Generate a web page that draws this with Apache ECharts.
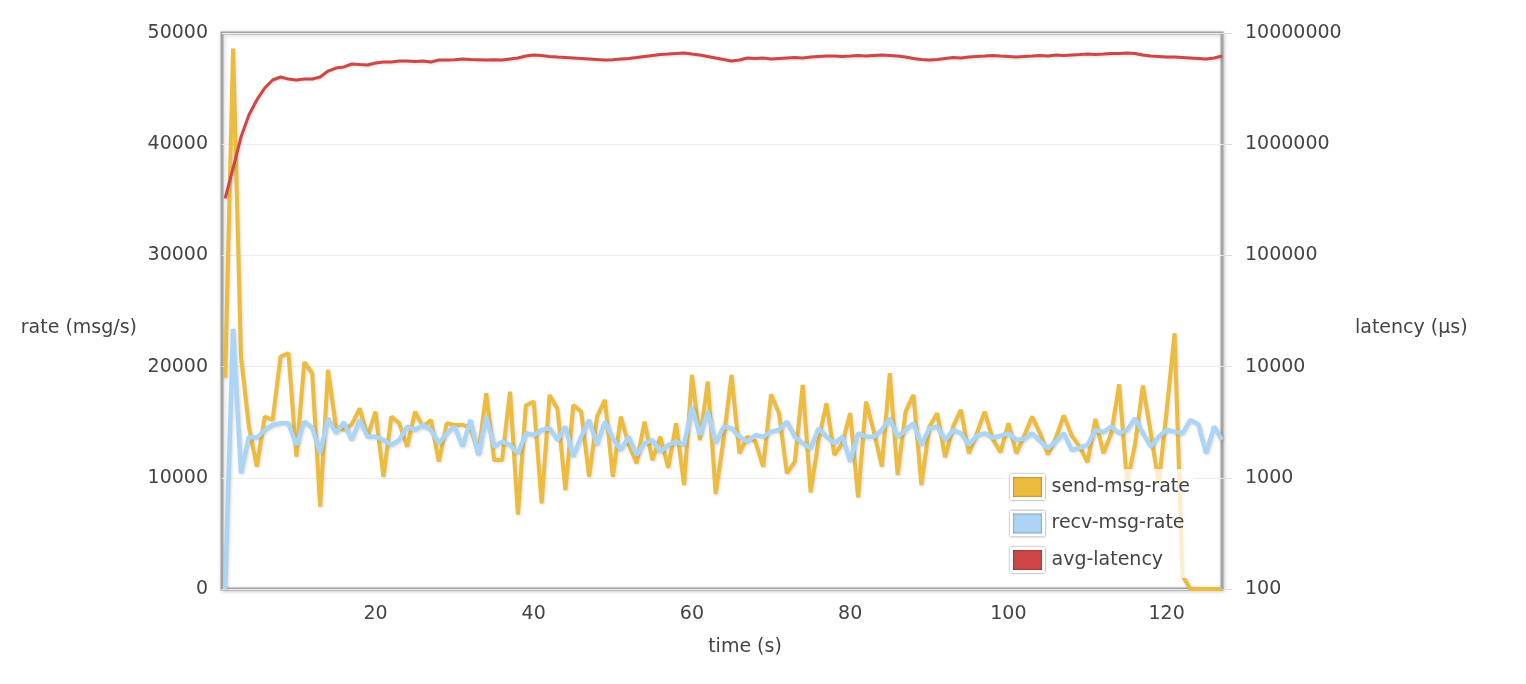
<!DOCTYPE html>
<html>
<head>
<meta charset="utf-8">
<script src="https://cdn.jsdelivr.net/npm/echarts@6/dist/echarts.min.js"></script>
<style>
html,body{margin:0;padding:0;background:#fff;}
#chart{width:1526px;height:684px;}
</style>
</head>
<body>
<div id="chart"></div>
<script>
// time (s)
var timeSec = [
1,2,3,4,5,6,7,8,9,10,11,12,13,14,15,16,17,18,19,20,
21,22,23,24,25,26,27,28,29,30,31,32,33,34,35,36,37,38,39,40,
41,42,43,44,45,46,47,48,49,50,51,52,53,54,55,56,57,58,59,60,
61,62,63,64,65,66,67,68,69,70,71,72,73,74,75,76,77,78,79,80,
81,82,83,84,85,86,87,88,89,90,91,92,93,94,95,96,97,98,99,100,
101,102,103,104,105,106,107,108,109,110,111,112,113,114,115,116,117,118,119,120,
121,122,123,124,125,126,127];

// send-msg-rate (msg/s)
var sendRate = [
19000,48600,20900,14600,11000,15500,15200,20900,21200,11900,
20400,19400,7400,19700,14600,14300,14800,16250,13700,15950,
10100,15500,14900,12800,15950,14600,15200,11450,14900,14750,
14750,14500,12200,17600,11600,11600,17750,6700,16500,16850,
7700,17450,16200,8900,16550,15950,10100,15500,17000,10100,
15500,13000,11300,15050,11600,13700,10900,14900,9350,19250,
13400,18650,8550,13500,19250,12200,13700,13300,11000,17500,
15800,10400,11450,18350,8700,13400,16700,12050,13100,15800,
8250,16850,14150,11000,19400,10250,15950,17450,9350,14600,
15800,11850,14600,16100,12200,14000,15950,13500,12300,14900,
12200,13800,15500,14000,12100,13600,15600,13800,12800,11400,
15300,12200,14000,18400,9500,13000,18300,14000,9500,16000,
23000,1200,0,0,0,0,0];

// recv-msg-rate (msg/s)
var recvRate = [
0,23400,10400,13700,13600,14300,14750,14900,14900,12950,
15050,14500,12200,15350,14000,15000,13400,15200,13700,13700,
13400,12950,13400,14600,14300,14750,14300,13100,14000,14600,
12800,15200,12050,15500,12800,13250,12950,12200,14000,13850,
14300,14450,13400,14600,11900,13700,15200,12950,15050,13550,
12500,13700,12050,13100,13400,12350,12950,13250,12950,16400,
13850,15950,13100,14600,14450,13700,13250,13850,13700,14150,
14300,15050,13700,13100,12650,14450,13700,13100,13700,11450,
14000,13700,13700,14300,15350,13700,14300,14900,12950,14450,
14600,13400,14300,14000,12950,13800,14000,13600,13800,14000,
13400,13500,14000,13300,12650,13300,14000,12500,12700,12950,
14300,14100,14600,14000,14300,15350,14000,12800,13700,14300,
14150,14000,15200,14800,12200,14600,13400];

// avg-latency (µs)
var avgLatency = [
326000,610000,1160000,1830000,2500000,3200000,3780000,4020000,3850000,3780000,
3860000,3860000,4020000,4550000,4840000,4950000,5260000,5200000,5150000,5370000,
5480000,5480000,5600000,5600000,5550000,5600000,5480000,5710000,5710000,5750000,
5840000,5780000,5750000,5710000,5750000,5710000,5840000,5960000,6210000,6340000,
6280000,6150000,6080000,6020000,5960000,5900000,5840000,5780000,5710000,5750000,
5840000,5900000,6020000,6150000,6280000,6400000,6470000,6550000,6610000,6470000,
6340000,6150000,5960000,5780000,5600000,5710000,5960000,5900000,5960000,5840000,
5900000,5960000,6020000,5960000,6080000,6150000,6210000,6210000,6150000,6210000,
6280000,6210000,6280000,6340000,6280000,6210000,6080000,5900000,5780000,5710000,
5780000,5900000,6020000,5960000,6080000,6150000,6210000,6280000,6210000,6150000,
6080000,6150000,6210000,6280000,6210000,6340000,6280000,6340000,6400000,6470000,
6400000,6470000,6550000,6550000,6610000,6550000,6340000,6210000,6150000,6080000,
6080000,6020000,5960000,5900000,5840000,5960000,6210000];

var xTickLabels = [20,40,60,80,100,120];
var leftTicks = {min:0, max:50000, interval:10000};
var rightTicks = {min:100, max:10000000};

function pairs(vals){ return vals.map(function(v,i){ return [timeSec[i], v]; }); }

var FONT = 'DejaVu Sans';
var FS = 19;
var TXT = '#444';
var chart = echarts.init(document.getElementById('chart'), null, {renderer:'canvas'});
var lineShadow = {shadowColor:'rgba(0,0,0,0.15)', shadowBlur:3, shadowOffsetX:1, shadowOffsetY:1};

chart.setOption({
  animation:false,
  backgroundColor:'#fff',
  textStyle:{fontFamily:FONT},
  grid:{left:222, right:304, top:33, bottom:95, show:true, borderColor:'#a3a3a3', borderWidth:3,
        backgroundColor:'#fff', shadowColor:'rgba(0,0,0,0.18)', shadowBlur:4, shadowOffsetX:1, shadowOffsetY:1},
  legend:{
    orient:'vertical', left:1005, top:469, padding:5,
    backgroundColor:'rgba(255,255,255,0.75)',
    icon:'rect', itemWidth:32, itemHeight:23, itemGap:10.5,
    itemStyle:{borderColor:'#fff', borderWidth:3, shadowColor:'rgba(0,0,0,0.6)', shadowBlur:2},
    textStyle:{fontFamily:FONT, fontSize:FS, color:TXT, padding:[0,0,0,3]},
    data:['send-msg-rate','recv-msg-rate','avg-latency']
  },
  xAxis:{
    type:'value', min:0.6, max:127,
    name:'time (s)', nameLocation:'middle', nameGap:49,
    nameTextStyle:{fontFamily:FONT, fontSize:FS, color:TXT, padding:[0,0,0,46]},
    axisLine:{show:false}, axisTick:{show:false}, splitLine:{show:false},
    axisLabel:{customValues:xTickLabels, fontFamily:FONT, fontSize:FS, color:TXT, margin:16,
               formatter:function(v){return String(v);}}
  },
  yAxis:[{
    type:'value', min:leftTicks.min, max:leftTicks.max, interval:leftTicks.interval,
    name:'rate (msg/s)', nameLocation:'middle', nameRotate:0, nameGap:85,
    nameTextStyle:{fontFamily:FONT, fontSize:FS, color:TXT, verticalAlign:'top', lineHeight:34},
    axisLine:{show:false}, axisTick:{show:false},
    splitLine:{show:true, lineStyle:{color:'#ececec', width:1}},
    axisLabel:{fontFamily:FONT, fontSize:FS, color:TXT, margin:14,
               formatter:function(v){return String(v);}}
  },{
    type:'log', logBase:10, min:rightTicks.min, max:rightTicks.max, position:'right',
    name:'latency (µs)', nameLocation:'middle', nameRotate:0, nameGap:133,
    nameTextStyle:{fontFamily:FONT, fontSize:FS, color:TXT, verticalAlign:'top', lineHeight:34},
    axisLine:{show:false},
    axisTick:{show:true, length:10, lineStyle:{color:'#dcdcdc', width:1}},
    splitLine:{show:false},
    axisLabel:{fontFamily:FONT, fontSize:FS, color:TXT, margin:23,
               formatter:function(v){return String(Math.round(v));}}
  }],
  series:[{
    name:'send-msg-rate', type:'line', yAxisIndex:0, data:pairs(sendRate),
    showSymbol:false, symbol:'none', color:'#ecbc3e',
    lineStyle:Object.assign({width:4, color:'#ecbc3e'}, lineShadow)
  },{
    name:'recv-msg-rate', type:'line', yAxisIndex:0, data:pairs(recvRate),
    showSymbol:false, symbol:'none', color:'#acd5f5',
    lineStyle:Object.assign({width:4.5, color:'#acd5f5'}, lineShadow)
  },{
    name:'avg-latency', type:'line', yAxisIndex:1, data:pairs(avgLatency),
    showSymbol:false, symbol:'none', color:'#cc4745',
    lineStyle:Object.assign({width:3, color:'#cc4745'}, lineShadow)
  }]
});
</script>
</body>
</html>
